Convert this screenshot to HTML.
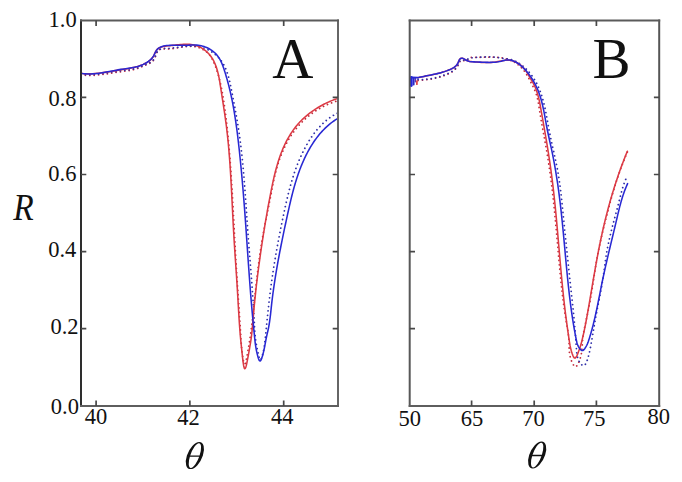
<!DOCTYPE html>
<html><head><meta charset="utf-8"><style>
html,body{margin:0;padding:0;background:#fff;width:682px;height:482px;overflow:hidden}
svg{display:block}
</style></head><body>
<svg width="682" height="482" viewBox="0 0 682 482"><rect width="682" height="482" fill="#fff"/><g><path d="M80.99,74.80 L82.49,75.00 L83.99,75.16 L85.50,75.28 L87.00,75.36 L88.50,75.40 L90.01,75.41 L91.52,75.39 L93.02,75.34 L94.53,75.27 L96.03,75.16 L97.54,75.04 L99.04,74.89 L100.55,74.73 L102.05,74.55 L103.56,74.35 L105.06,74.14 L106.56,73.93 L108.06,73.70 L109.56,73.47 L111.05,73.23 L112.55,73.00 L114.04,72.76 L115.53,72.52 L117.02,72.29 L118.50,72.07 L119.99,71.86 L121.46,71.65 L122.94,71.46 L124.41,71.26 L125.88,71.05 L127.35,70.84 L128.81,70.60 L130.27,70.35 L131.72,70.06 L133.17,69.73 L134.62,69.37 L136.06,68.96 L137.50,68.49 L138.93,67.96 L140.35,67.37 L141.78,66.73 L143.19,66.09 L144.60,65.50 L146.00,64.94 L147.37,64.37 L148.72,63.77 L150.03,63.09 L151.30,62.32 L152.48,61.40 L153.48,60.32 L154.29,59.08 L154.95,57.71 L155.51,56.27 L155.99,54.78 L156.49,53.32 L157.09,51.95 L157.90,50.78 L158.91,49.89 L160.13,49.33 L161.52,49.04 L163.04,48.93 L164.64,48.91 L166.29,48.91 L167.96,48.90 L169.60,48.85 L171.18,48.75 L172.69,48.60 L174.16,48.40 L175.59,48.16 L177.00,47.91 L178.42,47.64 L179.86,47.39 L181.32,47.14 L182.78,46.91 L184.26,46.71 L185.75,46.54 L187.24,46.42 L188.74,46.34 L190.24,46.31 L191.74,46.35 L193.23,46.45 L194.72,46.63 L196.20,46.90 L197.66,47.26 L199.12,47.71 L200.56,48.27 L201.97,48.94 L203.36,49.70 L204.70,50.55 L205.98,51.49 L207.20,52.51 L208.34,53.59 L209.40,54.73 L210.35,55.93 L211.21,57.18 L211.97,58.46 L212.67,59.77 L213.30,61.11 L213.90,62.47 L214.46,63.83 L215.01,65.20 L215.53,66.58 L216.04,67.96 L216.53,69.35 L217.00,70.74 L217.45,72.14 L217.88,73.55 L218.30,74.96 L218.70,76.38 L219.09,77.80 L219.46,79.22 L219.82,80.65 L220.16,82.09 L220.50,83.53 L220.82,84.97 L221.13,86.42 L221.42,87.87 L221.71,89.33 L221.99,90.79 L222.26,92.25 L222.52,93.72 L222.78,95.19 L223.03,96.66 L223.27,98.14 L223.51,99.62 L223.74,101.10 L223.96,102.59 L224.19,104.08 L224.40,105.57 L224.62,107.06 L224.83,108.55 L225.03,110.05 L225.23,111.55 L225.43,113.05 L225.62,114.55 L225.81,116.05 L226.00,117.55 L226.18,119.06 L226.36,120.57 L226.53,122.07 L226.71,123.58 L226.87,125.09 L227.04,126.60 L227.20,128.11 L227.36,129.61 L227.52,131.12 L227.68,132.63 L227.83,134.14 L227.98,135.65 L228.12,137.16 L228.27,138.66 L228.41,140.17 L228.55,141.68 L228.69,143.18 L228.83,144.69 L228.96,146.19 L229.09,147.70 L229.22,149.20 L229.35,150.71 L229.48,152.21 L229.60,153.71 L229.72,155.21 L229.84,156.72 L229.96,158.22 L230.08,159.72 L230.19,161.22 L230.31,162.72 L230.42,164.22 L230.53,165.72 L230.64,167.22 L230.74,168.72 L230.85,170.22 L230.95,171.72 L231.06,173.22 L231.16,174.72 L231.26,176.21 L231.36,177.71 L231.45,179.21 L231.55,180.71 L231.64,182.21 L231.74,183.70 L231.83,185.20 L231.92,186.70 L232.01,188.19 L232.10,189.69 L232.19,191.19 L232.28,192.68 L232.37,194.18 L232.45,195.67 L232.54,197.17 L232.62,198.66 L232.71,200.16 L232.79,201.66 L232.87,203.15 L232.95,204.65 L233.03,206.14 L233.11,207.64 L233.19,209.13 L233.27,210.63 L233.35,212.12 L233.43,213.62 L233.51,215.11 L233.59,216.61 L233.67,218.10 L233.75,219.60 L233.82,221.09 L233.90,222.59 L233.98,224.08 L234.06,225.58 L234.13,227.07 L234.21,228.57 L234.29,230.07 L234.37,231.56 L234.44,233.06 L234.52,234.55 L234.60,236.05 L234.68,237.55 L234.76,239.04 L234.84,240.54 L234.91,242.04 L234.99,243.53 L235.07,245.03 L235.16,246.53 L235.24,248.03 L235.32,249.52 L235.40,251.02 L235.48,252.52 L235.57,254.02 L235.65,255.52 L235.74,257.02 L235.82,258.52 L235.91,260.01 L236.00,261.51 L236.09,263.01 L236.17,264.52 L236.26,266.02 L236.36,267.52 L236.45,269.02 L236.54,270.52 L236.63,272.02 L236.73,273.53 L236.82,275.03 L236.92,276.53 L237.01,278.04 L237.11,279.54 L237.20,281.05 L237.30,282.56 L237.40,284.06 L237.50,285.57 L237.60,287.08 L237.70,288.59 L237.79,290.10 L237.89,291.61 L238.00,293.12 L238.10,294.63 L238.20,296.14 L238.30,297.65 L238.40,299.17 L238.50,300.68 L238.60,302.20 L238.71,303.72 L238.81,305.23 L238.91,306.75 L239.01,308.27 L239.12,309.79 L239.22,311.31 L239.32,312.83 L239.43,314.36 L239.53,315.88 L239.63,317.40 L239.73,318.93 L239.84,320.45 L239.94,321.97 L240.04,323.48 L240.14,324.99 L240.24,326.49 L240.33,327.98 L240.43,329.45 L240.52,330.91 L240.61,332.36 L240.70,333.79 L240.78,335.20 L240.86,336.59 L240.94,337.95 L241.01,339.30 L241.09,340.64 L241.17,341.98 L241.26,343.34 L241.35,344.73 L241.47,346.17 L241.60,347.67 L241.76,349.24 L241.94,350.90 L242.15,352.66 L242.40,354.54 L242.68,356.53 L242.99,358.54 L243.34,360.43 L243.71,362.05 L244.10,363.25 L244.50,363.90 L244.92,363.85 L245.33,363.12 L245.75,361.86 L246.15,360.21 L246.55,358.30 L246.93,356.29 L247.29,354.31 L247.63,352.44 L247.94,350.67 L248.23,349.01 L248.51,347.42 L248.77,345.90 L249.01,344.45 L249.24,343.04 L249.46,341.66 L249.67,340.31 L249.88,338.97 L250.08,337.62 L250.28,336.27 L250.47,334.90 L250.66,333.52 L250.85,332.13 L251.03,330.72 L251.22,329.30 L251.40,327.88 L251.58,326.44 L251.76,324.99 L251.93,323.54 L252.11,322.07 L252.28,320.60 L252.45,319.12 L252.62,317.63 L252.78,316.14 L252.95,314.63 L253.12,313.13 L253.28,311.62 L253.44,310.10 L253.60,308.58 L253.77,307.06 L253.93,305.54 L254.09,304.01 L254.25,302.48 L254.41,300.95 L254.57,299.42 L254.73,297.89 L254.89,296.36 L255.05,294.83 L255.21,293.30 L255.37,291.78 L255.53,290.26 L255.70,288.74 L255.86,287.22 L256.02,285.71 L256.19,284.20 L256.35,282.69 L256.52,281.18 L256.69,279.68 L256.86,278.18 L257.03,276.68 L257.21,275.19 L257.38,273.70 L257.56,272.20 L257.74,270.72 L257.92,269.23 L258.10,267.74 L258.29,266.26 L258.48,264.78 L258.67,263.30 L258.86,261.82 L259.06,260.34 L259.26,258.86 L259.46,257.39 L259.66,255.91 L259.87,254.44 L260.08,252.97 L260.30,251.49 L260.52,250.02 L260.74,248.55 L260.97,247.08 L261.20,245.60 L261.43,244.13 L261.67,242.66 L261.92,241.19 L262.16,239.72 L262.42,238.24 L262.67,236.77 L262.93,235.30 L263.20,233.82 L263.47,232.35 L263.75,230.87 L264.02,229.39 L264.31,227.92 L264.59,226.44 L264.88,224.96 L265.17,223.48 L265.47,222.01 L265.76,220.53 L266.06,219.05 L266.36,217.57 L266.66,216.09 L266.96,214.61 L267.27,213.13 L267.57,211.65 L267.87,210.17 L268.17,208.69 L268.47,207.21 L268.77,205.73 L269.07,204.25 L269.37,202.77 L269.67,201.29 L269.96,199.81 L270.25,198.33 L270.54,196.86 L270.83,195.38 L271.11,193.90 L271.39,192.43 L271.66,190.95 L271.94,189.47 L272.22,188.00 L272.50,186.53 L272.79,185.05 L273.08,183.58 L273.37,182.11 L273.68,180.64 L273.99,179.17 L274.32,177.71 L274.65,176.24 L275.00,174.77 L275.36,173.31 L275.73,171.85 L276.11,170.39 L276.51,168.94 L276.92,167.48 L277.35,166.04 L277.78,164.59 L278.24,163.15 L278.71,161.72 L279.19,160.29 L279.69,158.87 L280.21,157.45 L280.74,156.04 L281.28,154.64 L281.85,153.24 L282.43,151.85 L283.03,150.48 L283.64,149.11 L284.27,147.74 L284.93,146.39 L285.60,145.05 L286.28,143.72 L286.99,142.40 L287.72,141.09 L288.47,139.79 L289.23,138.51 L290.02,137.23 L290.83,135.97 L291.66,134.72 L292.50,133.49 L293.37,132.27 L294.26,131.06 L295.17,129.87 L296.10,128.70 L297.05,127.54 L298.02,126.39 L299.01,125.27 L300.01,124.16 L301.04,123.06 L302.09,121.99 L303.16,120.93 L304.24,119.89 L305.35,118.87 L306.47,117.87 L307.61,116.89 L308.78,115.93 L309.96,114.99 L311.16,114.07 L312.38,113.17 L313.62,112.30 L314.87,111.44 L316.15,110.61 L317.44,109.80 L318.74,109.02 L320.06,108.25 L321.39,107.52 L322.74,106.80 L324.09,106.12 L325.46,105.45 L326.83,104.82 L328.21,104.21 L329.59,103.62 L330.98,103.07 L332.38,102.54 L333.77,102.04 L335.17,101.56 L336.57,101.12 L337.97,100.70" fill="none" stroke="#c42c3c" stroke-width="1.8" stroke-dasharray="0.01 4.4" stroke-linecap="round"/><path d="M80.99,74.20 L82.50,74.38 L84.00,74.53 L85.51,74.63 L87.02,74.69 L88.53,74.72 L90.04,74.71 L91.54,74.68 L93.05,74.61 L94.56,74.52 L96.06,74.40 L97.57,74.26 L99.08,74.10 L100.58,73.93 L102.08,73.74 L103.58,73.53 L105.08,73.31 L106.58,73.09 L108.08,72.86 L109.58,72.62 L111.07,72.38 L112.57,72.14 L114.06,71.91 L115.54,71.68 L117.03,71.45 L118.52,71.24 L120.00,71.03 L121.48,70.84 L122.95,70.65 L124.43,70.47 L125.90,70.28 L127.37,70.08 L128.83,69.87 L130.30,69.63 L131.76,69.36 L133.21,69.05 L134.67,68.70 L136.11,68.31 L137.56,67.85 L139.00,67.34 L140.44,66.76 L141.87,66.13 L143.30,65.51 L144.73,64.93 L146.13,64.37 L147.52,63.81 L148.87,63.21 L150.17,62.54 L151.42,61.77 L152.56,60.85 L153.53,59.74 L154.32,58.45 L154.99,57.04 L155.57,55.57 L156.12,54.10 L156.71,52.70 L157.41,51.43 L158.31,50.35 L159.39,49.51 L160.66,48.96 L162.07,48.64 L163.60,48.48 L165.20,48.40 L166.84,48.35 L168.48,48.30 L170.09,48.23 L171.63,48.12 L173.13,47.97 L174.58,47.80 L176.01,47.60 L177.44,47.39 L178.88,47.19 L180.34,46.99 L181.81,46.80 L183.29,46.62 L184.79,46.46 L186.30,46.33 L187.81,46.23 L189.33,46.15 L190.85,46.12 L192.37,46.12 L193.89,46.17 L195.40,46.28 L196.90,46.43 L198.40,46.65 L199.88,46.93 L201.35,47.27 L202.80,47.68 L204.23,48.16 L205.64,48.70 L207.03,49.30 L208.39,49.95 L209.72,50.67 L211.02,51.43 L212.29,52.25 L213.52,53.12 L214.71,54.04 L215.86,55.00 L216.97,56.01 L218.04,57.06 L219.06,58.14 L220.02,59.27 L220.94,60.43 L221.80,61.62 L222.61,62.85 L223.37,64.11 L224.09,65.39 L224.76,66.70 L225.38,68.04 L225.97,69.40 L226.52,70.78 L227.04,72.18 L227.52,73.60 L227.98,75.04 L228.40,76.49 L228.81,77.95 L229.19,79.43 L229.55,80.91 L229.89,82.40 L230.22,83.90 L230.54,85.41 L230.85,86.91 L231.15,88.42 L231.44,89.93 L231.74,91.43 L232.03,92.93 L232.32,94.43 L232.61,95.93 L232.90,97.42 L233.19,98.91 L233.48,100.40 L233.76,101.88 L234.05,103.37 L234.33,104.85 L234.61,106.33 L234.89,107.81 L235.16,109.28 L235.43,110.76 L235.70,112.23 L235.97,113.71 L236.23,115.18 L236.49,116.65 L236.75,118.13 L237.00,119.60 L237.25,121.08 L237.50,122.55 L237.74,124.02 L237.98,125.50 L238.21,126.98 L238.44,128.45 L238.67,129.93 L238.89,131.41 L239.10,132.89 L239.31,134.37 L239.52,135.86 L239.73,137.34 L239.93,138.82 L240.12,140.31 L240.31,141.80 L240.50,143.28 L240.69,144.77 L240.87,146.26 L241.05,147.75 L241.22,149.24 L241.39,150.73 L241.56,152.22 L241.73,153.71 L241.89,155.21 L242.05,156.70 L242.21,158.20 L242.36,159.69 L242.51,161.19 L242.66,162.68 L242.80,164.18 L242.95,165.68 L243.09,167.18 L243.22,168.67 L243.36,170.17 L243.49,171.67 L243.62,173.17 L243.75,174.67 L243.88,176.17 L244.01,177.67 L244.13,179.18 L244.25,180.68 L244.37,182.18 L244.49,183.68 L244.61,185.19 L244.72,186.69 L244.84,188.19 L244.95,189.70 L245.06,191.20 L245.17,192.70 L245.28,194.21 L245.39,195.71 L245.50,197.22 L245.60,198.72 L245.71,200.23 L245.81,201.73 L245.92,203.24 L246.02,204.74 L246.12,206.25 L246.23,207.75 L246.33,209.26 L246.43,210.76 L246.53,212.27 L246.63,213.77 L246.74,215.28 L246.84,216.78 L246.94,218.28 L247.04,219.79 L247.14,221.29 L247.25,222.80 L247.35,224.30 L247.45,225.80 L247.56,227.31 L247.66,228.81 L247.77,230.31 L247.87,231.81 L247.98,233.31 L248.09,234.81 L248.20,236.32 L248.31,237.82 L248.42,239.32 L248.53,240.82 L248.64,242.32 L248.76,243.81 L248.87,245.31 L248.99,246.81 L249.10,248.31 L249.22,249.81 L249.34,251.30 L249.46,252.80 L249.57,254.30 L249.69,255.80 L249.81,257.29 L249.93,258.79 L250.05,260.29 L250.17,261.78 L250.29,263.28 L250.40,264.77 L250.52,266.27 L250.64,267.76 L250.76,269.26 L250.88,270.76 L251.00,272.25 L251.11,273.75 L251.23,275.24 L251.35,276.74 L251.46,278.23 L251.58,279.73 L251.69,281.22 L251.80,282.72 L251.92,284.22 L252.03,285.71 L252.14,287.21 L252.25,288.70 L252.36,290.20 L252.46,291.70 L252.57,293.19 L252.67,294.69 L252.78,296.19 L252.88,297.69 L252.98,299.19 L253.08,300.69 L253.18,302.19 L253.27,303.69 L253.37,305.20 L253.46,306.71 L253.55,308.21 L253.64,309.73 L253.72,311.24 L253.81,312.76 L253.89,314.27 L253.97,315.79 L254.05,317.32 L254.12,318.85 L254.20,320.37 L254.27,321.90 L254.34,323.43 L254.42,324.95 L254.50,326.47 L254.59,327.98 L254.68,329.47 L254.78,330.96 L254.88,332.43 L255.00,333.89 L255.13,335.32 L255.27,336.74 L255.43,338.13 L255.60,339.50 L255.79,340.86 L256.00,342.22 L256.23,343.60 L256.47,345.00 L256.74,346.43 L257.03,347.92 L257.35,349.46 L257.70,351.08 L258.07,352.78 L258.47,354.58 L258.89,356.46 L259.36,358.20 L259.85,359.46 L260.38,359.91 L260.93,359.39 L261.49,358.17 L262.02,356.55 L262.51,354.83 L262.95,353.15 L263.33,351.50 L263.66,349.89 L263.96,348.31 L264.22,346.75 L264.45,345.22 L264.65,343.70 L264.83,342.20 L265.00,340.70 L265.16,339.21 L265.31,337.73 L265.47,336.24 L265.62,334.75 L265.77,333.27 L265.92,331.78 L266.07,330.29 L266.22,328.79 L266.37,327.30 L266.52,325.81 L266.67,324.32 L266.82,322.82 L266.98,321.33 L267.13,319.83 L267.28,318.33 L267.44,316.84 L267.59,315.34 L267.75,313.84 L267.91,312.35 L268.07,310.85 L268.23,309.35 L268.39,307.85 L268.55,306.36 L268.72,304.86 L268.89,303.36 L269.06,301.86 L269.23,300.37 L269.40,298.87 L269.58,297.37 L269.76,295.88 L269.94,294.38 L270.12,292.89 L270.31,291.39 L270.50,289.90 L270.69,288.41 L270.89,286.92 L271.09,285.42 L271.29,283.93 L271.50,282.44 L271.71,280.95 L271.92,279.46 L272.13,277.98 L272.35,276.49 L272.57,275.00 L272.79,273.51 L273.01,272.03 L273.24,270.54 L273.47,269.06 L273.70,267.57 L273.94,266.09 L274.18,264.61 L274.42,263.12 L274.66,261.64 L274.91,260.16 L275.16,258.68 L275.41,257.20 L275.66,255.72 L275.92,254.24 L276.17,252.76 L276.43,251.28 L276.70,249.80 L276.96,248.32 L277.23,246.84 L277.50,245.36 L277.77,243.88 L278.04,242.41 L278.32,240.93 L278.60,239.45 L278.88,237.97 L279.16,236.50 L279.45,235.02 L279.73,233.54 L280.02,232.07 L280.31,230.59 L280.60,229.12 L280.90,227.64 L281.19,226.17 L281.49,224.69 L281.79,223.21 L282.09,221.74 L282.40,220.26 L282.70,218.79 L283.01,217.31 L283.32,215.84 L283.63,214.36 L283.94,212.89 L284.26,211.41 L284.57,209.94 L284.89,208.46 L285.21,206.99 L285.54,205.52 L285.87,204.04 L286.20,202.57 L286.54,201.10 L286.88,199.63 L287.23,198.16 L287.58,196.70 L287.93,195.23 L288.30,193.77 L288.66,192.31 L289.04,190.85 L289.42,189.39 L289.81,187.94 L290.20,186.49 L290.60,185.04 L291.01,183.59 L291.43,182.14 L291.85,180.70 L292.29,179.26 L292.73,177.83 L293.18,176.40 L293.65,174.97 L294.12,173.54 L294.60,172.12 L295.09,170.70 L295.59,169.29 L296.11,167.88 L296.63,166.48 L297.17,165.07 L297.72,163.68 L298.28,162.29 L298.85,160.90 L299.43,159.52 L300.03,158.14 L300.64,156.77 L301.27,155.40 L301.91,154.04 L302.56,152.68 L303.23,151.33 L303.91,149.98 L304.60,148.64 L305.32,147.31 L306.05,145.98 L306.79,144.66 L307.55,143.35 L308.33,142.05 L309.12,140.75 L309.93,139.47 L310.76,138.20 L311.60,136.94 L312.47,135.69 L313.35,134.46 L314.25,133.24 L315.17,132.04 L316.11,130.85 L317.06,129.69 L318.04,128.54 L319.04,127.42 L320.06,126.31 L321.10,125.23 L322.16,124.17 L323.24,123.13 L324.34,122.12 L325.46,121.13 L326.61,120.17 L327.78,119.24 L328.97,118.34 L330.18,117.47 L331.42,116.62 L332.68,115.81 L333.97,115.03 L335.28,114.29 L336.61,113.58 L337.97,112.90" fill="none" stroke="#2e2ea8" stroke-width="1.8" stroke-dasharray="0.01 4.4" stroke-linecap="round"/><path d="M81.12,73.42 L82.56,73.56 L84.01,73.67 L85.47,73.75 L86.93,73.79 L88.41,73.80 L89.88,73.78 L91.37,73.73 L92.86,73.66 L94.35,73.57 L95.85,73.45 L97.35,73.31 L98.86,73.15 L100.36,72.97 L101.87,72.78 L103.38,72.58 L104.90,72.36 L106.41,72.13 L107.93,71.89 L109.44,71.65 L110.95,71.39 L112.47,71.14 L113.98,70.88 L115.49,70.63 L116.99,70.37 L118.50,70.12 L120.00,69.87 L121.49,69.63 L122.98,69.39 L124.47,69.15 L125.95,68.91 L127.42,68.65 L128.89,68.39 L130.36,68.12 L131.81,67.82 L133.26,67.50 L134.70,67.16 L136.13,66.79 L137.55,66.39 L138.96,65.95 L140.36,65.46 L141.75,64.94 L143.13,64.37 L144.49,63.74 L145.85,63.07 L147.18,62.32 L148.46,61.51 L149.68,60.62 L150.82,59.63 L151.85,58.54 L152.76,57.34 L153.53,56.02 L154.20,54.62 L154.83,53.20 L155.49,51.82 L156.23,50.53 L157.12,49.40 L158.20,48.48 L159.45,47.74 L160.82,47.16 L162.28,46.72 L163.78,46.39 L165.28,46.15 L166.76,45.96 L168.23,45.82 L169.70,45.68 L171.19,45.53 L172.69,45.36 L174.21,45.19 L175.74,45.01 L177.28,44.84 L178.82,44.69 L180.38,44.54 L181.93,44.42 L183.48,44.34 L185.02,44.28 L186.56,44.27 L188.09,44.30 L189.61,44.39 L191.11,44.54 L192.59,44.75 L194.05,45.04 L195.49,45.40 L196.90,45.85 L198.29,46.37 L199.64,46.97 L200.95,47.64 L202.23,48.38 L203.47,49.18 L204.67,50.05 L205.82,50.96 L206.92,51.93 L207.97,52.95 L208.97,54.02 L209.91,55.13 L210.80,56.27 L211.63,57.46 L212.41,58.67 L213.13,59.93 L213.82,61.21 L214.45,62.52 L215.05,63.86 L215.60,65.23 L216.11,66.62 L216.59,68.03 L217.04,69.46 L217.46,70.92 L217.84,72.38 L218.21,73.87 L218.54,75.36 L218.86,76.87 L219.16,78.39 L219.44,79.91 L219.70,81.44 L219.96,82.98 L220.20,84.51 L220.44,86.05 L220.67,87.58 L220.90,89.11 L221.13,90.64 L221.36,92.16 L221.59,93.67 L221.83,95.18 L222.06,96.68 L222.29,98.18 L222.52,99.67 L222.75,101.16 L222.99,102.64 L223.22,104.12 L223.45,105.60 L223.67,107.08 L223.90,108.55 L224.12,110.02 L224.35,111.49 L224.56,112.96 L224.78,114.43 L224.99,115.90 L225.20,117.37 L225.41,118.84 L225.61,120.31 L225.81,121.78 L226.01,123.25 L226.20,124.73 L226.39,126.20 L226.57,127.68 L226.75,129.16 L226.92,130.64 L227.09,132.12 L227.26,133.61 L227.42,135.09 L227.58,136.58 L227.74,138.06 L227.89,139.55 L228.04,141.04 L228.18,142.53 L228.33,144.03 L228.46,145.52 L228.60,147.01 L228.73,148.51 L228.86,150.01 L228.99,151.50 L229.11,153.00 L229.24,154.50 L229.35,156.00 L229.47,157.50 L229.58,159.00 L229.70,160.51 L229.81,162.01 L229.91,163.51 L230.02,165.02 L230.12,166.52 L230.22,168.03 L230.32,169.54 L230.41,171.04 L230.51,172.55 L230.60,174.06 L230.69,175.57 L230.78,177.07 L230.87,178.58 L230.96,180.09 L231.04,181.60 L231.13,183.11 L231.21,184.62 L231.29,186.13 L231.37,187.64 L231.45,189.15 L231.53,190.66 L231.61,192.17 L231.69,193.68 L231.76,195.19 L231.84,196.70 L231.91,198.21 L231.99,199.72 L232.06,201.22 L232.14,202.73 L232.21,204.24 L232.29,205.75 L232.36,207.26 L232.43,208.76 L232.51,210.27 L232.58,211.78 L232.66,213.28 L232.73,214.79 L232.81,216.29 L232.88,217.79 L232.96,219.30 L233.03,220.80 L233.11,222.30 L233.19,223.80 L233.27,225.30 L233.35,226.80 L233.43,228.30 L233.51,229.79 L233.60,231.29 L233.68,232.79 L233.77,234.28 L233.85,235.77 L233.94,237.26 L234.03,238.75 L234.12,240.24 L234.21,241.73 L234.31,243.22 L234.40,244.71 L234.50,246.20 L234.59,247.68 L234.69,249.17 L234.79,250.66 L234.89,252.14 L234.99,253.63 L235.09,255.12 L235.19,256.61 L235.29,258.09 L235.39,259.58 L235.49,261.07 L235.59,262.56 L235.69,264.05 L235.79,265.54 L235.89,267.03 L236.00,268.53 L236.10,270.02 L236.20,271.52 L236.30,273.01 L236.40,274.51 L236.50,276.01 L236.60,277.52 L236.70,279.02 L236.80,280.53 L236.89,282.04 L236.99,283.55 L237.09,285.06 L237.18,286.58 L237.28,288.09 L237.37,289.61 L237.46,291.14 L237.55,292.66 L237.64,294.19 L237.73,295.72 L237.82,297.25 L237.91,298.78 L238.00,300.31 L238.08,301.84 L238.17,303.37 L238.26,304.90 L238.35,306.43 L238.44,307.95 L238.52,309.47 L238.61,310.99 L238.70,312.51 L238.79,314.02 L238.89,315.52 L238.98,317.02 L239.07,318.52 L239.17,320.01 L239.26,321.49 L239.36,322.97 L239.46,324.44 L239.57,325.90 L239.67,327.36 L239.78,328.80 L239.89,330.24 L240.00,331.67 L240.11,333.08 L240.23,334.49 L240.35,335.89 L240.47,337.27 L240.60,338.64 L240.73,340.01 L240.86,341.39 L241.00,342.79 L241.14,344.21 L241.30,345.68 L241.46,347.20 L241.62,348.77 L241.80,350.42 L241.98,352.16 L242.18,353.98 L242.39,355.91 L242.61,357.92 L242.84,359.94 L243.08,361.91 L243.34,363.75 L243.61,365.41 L243.90,366.80 L244.20,367.87 L244.53,368.54 L244.86,368.75 L245.22,368.47 L245.59,367.74 L245.97,366.63 L246.35,365.20 L246.74,363.53 L247.13,361.68 L247.51,359.72 L247.88,357.72 L248.24,355.74 L248.58,353.84 L248.90,352.05 L249.20,350.35 L249.49,348.74 L249.76,347.19 L250.02,345.71 L250.26,344.28 L250.49,342.88 L250.71,341.51 L250.92,340.15 L251.11,338.79 L251.30,337.43 L251.47,336.04 L251.64,334.65 L251.80,333.23 L251.95,331.80 L252.09,330.36 L252.23,328.90 L252.37,327.43 L252.50,325.96 L252.63,324.47 L252.75,322.98 L252.88,321.48 L253.00,319.98 L253.12,318.47 L253.25,316.96 L253.38,315.45 L253.51,313.94 L253.64,312.43 L253.77,310.91 L253.91,309.40 L254.05,307.89 L254.19,306.38 L254.33,304.87 L254.48,303.36 L254.63,301.85 L254.78,300.34 L254.94,298.83 L255.09,297.32 L255.25,295.81 L255.41,294.30 L255.58,292.79 L255.74,291.28 L255.91,289.77 L256.08,288.27 L256.25,286.76 L256.42,285.26 L256.60,283.75 L256.78,282.25 L256.96,280.75 L257.14,279.24 L257.32,277.74 L257.51,276.24 L257.69,274.74 L257.88,273.25 L258.07,271.75 L258.27,270.25 L258.46,268.76 L258.66,267.27 L258.85,265.77 L259.05,264.28 L259.25,262.79 L259.46,261.31 L259.66,259.82 L259.87,258.33 L260.07,256.85 L260.28,255.37 L260.49,253.89 L260.70,252.41 L260.91,250.93 L261.13,249.45 L261.34,247.97 L261.56,246.50 L261.78,245.02 L262.00,243.55 L262.22,242.08 L262.45,240.60 L262.68,239.13 L262.90,237.66 L263.13,236.19 L263.36,234.72 L263.60,233.24 L263.83,231.77 L264.07,230.30 L264.31,228.83 L264.55,227.36 L264.79,225.89 L265.03,224.42 L265.28,222.95 L265.53,221.48 L265.78,220.00 L266.03,218.53 L266.28,217.06 L266.54,215.58 L266.80,214.11 L267.06,212.63 L267.32,211.16 L267.58,209.68 L267.85,208.20 L268.12,206.72 L268.39,205.24 L268.66,203.76 L268.94,202.28 L269.21,200.80 L269.49,199.31 L269.78,197.82 L270.06,196.33 L270.35,194.84 L270.63,193.35 L270.93,191.86 L271.22,190.36 L271.52,188.87 L271.82,187.37 L272.13,185.88 L272.44,184.39 L272.76,182.89 L273.08,181.40 L273.41,179.91 L273.75,178.42 L274.09,176.93 L274.44,175.45 L274.80,173.96 L275.17,172.48 L275.55,171.01 L275.93,169.54 L276.33,168.07 L276.73,166.61 L277.15,165.15 L277.58,163.70 L278.02,162.25 L278.47,160.81 L278.93,159.38 L279.41,157.95 L279.90,156.53 L280.41,155.11 L280.92,153.71 L281.46,152.31 L282.01,150.92 L282.57,149.54 L283.15,148.17 L283.75,146.81 L284.36,145.46 L284.99,144.11 L285.64,142.78 L286.30,141.46 L286.99,140.15 L287.69,138.85 L288.42,137.57 L289.16,136.29 L289.92,135.03 L290.71,133.78 L291.51,132.55 L292.34,131.33 L293.19,130.12 L294.06,128.93 L294.96,127.75 L295.88,126.58 L296.82,125.43 L297.79,124.30 L298.78,123.18 L299.80,122.08 L300.84,121.00 L301.91,119.93 L303.00,118.89 L304.11,117.85 L305.25,116.84 L306.40,115.85 L307.58,114.87 L308.78,113.91 L309.99,112.98 L311.22,112.06 L312.47,111.16 L313.73,110.28 L315.01,109.43 L316.30,108.59 L317.61,107.78 L318.92,106.99 L320.24,106.22 L321.58,105.47 L322.92,104.75 L324.27,104.05 L325.63,103.37 L326.99,102.72 L328.36,102.09 L329.73,101.49 L331.11,100.91 L332.48,100.36 L333.86,99.83 L335.24,99.33 L336.61,98.86 L337.98,98.41" fill="none" stroke="#dc3a44" stroke-width="1.55" stroke-linejoin="round" stroke-linecap="round"/><path d="M80.89,73.35 L82.50,73.55 L84.08,73.71 L85.65,73.82 L87.20,73.90 L88.74,73.93 L90.26,73.92 L91.77,73.88 L93.26,73.80 L94.74,73.70 L96.22,73.57 L97.68,73.41 L99.14,73.23 L100.59,73.02 L102.04,72.80 L103.48,72.57 L104.92,72.32 L106.36,72.06 L107.81,71.79 L109.25,71.51 L110.70,71.24 L112.15,70.96 L113.61,70.68 L115.07,70.40 L116.54,70.14 L118.03,69.88 L119.52,69.63 L121.03,69.39 L122.54,69.17 L124.07,68.95 L125.60,68.73 L127.13,68.50 L128.65,68.27 L130.18,68.02 L131.70,67.75 L133.21,67.46 L134.71,67.14 L136.19,66.79 L137.66,66.40 L139.10,65.97 L140.53,65.50 L141.93,64.97 L143.30,64.38 L144.64,63.74 L145.94,63.03 L147.21,62.25 L148.44,61.39 L149.63,60.46 L150.77,59.44 L151.83,58.34 L152.78,57.17 L153.58,55.93 L154.26,54.63 L154.91,53.28 L155.59,51.89 L156.36,50.54 L157.26,49.35 L158.33,48.37 L159.54,47.60 L160.83,46.97 L162.20,46.47 L163.63,46.08 L165.12,45.79 L166.65,45.58 L168.20,45.45 L169.79,45.36 L171.38,45.32 L172.97,45.31 L174.56,45.31 L176.13,45.31 L177.68,45.31 L179.20,45.30 L180.72,45.29 L182.21,45.27 L183.70,45.24 L185.17,45.22 L186.64,45.19 L188.10,45.15 L189.56,45.11 L191.01,45.07 L192.46,45.03 L193.92,45.02 L195.38,45.04 L196.85,45.11 L198.32,45.24 L199.81,45.45 L201.30,45.75 L202.80,46.14 L204.30,46.61 L205.78,47.17 L207.24,47.81 L208.67,48.51 L210.06,49.29 L211.40,50.14 L212.68,51.05 L213.90,52.02 L215.04,53.04 L216.10,54.12 L217.08,55.24 L217.99,56.41 L218.83,57.62 L219.60,58.87 L220.31,60.16 L220.98,61.47 L221.59,62.81 L222.17,64.17 L222.71,65.55 L223.22,66.95 L223.71,68.36 L224.18,69.78 L224.64,71.20 L225.10,72.62 L225.54,74.05 L225.97,75.48 L226.39,76.92 L226.81,78.35 L227.22,79.79 L227.61,81.24 L228.00,82.68 L228.38,84.13 L228.76,85.58 L229.12,87.04 L229.48,88.49 L229.83,89.95 L230.17,91.41 L230.51,92.87 L230.83,94.34 L231.16,95.81 L231.47,97.28 L231.78,98.75 L232.08,100.22 L232.37,101.70 L232.66,103.18 L232.94,104.66 L233.21,106.14 L233.48,107.62 L233.75,109.11 L234.00,110.59 L234.25,112.08 L234.50,113.57 L234.74,115.06 L234.98,116.55 L235.21,118.04 L235.44,119.53 L235.66,121.03 L235.88,122.52 L236.09,124.02 L236.30,125.52 L236.51,127.02 L236.71,128.51 L236.91,130.01 L237.10,131.51 L237.29,133.01 L237.48,134.51 L237.66,136.01 L237.85,137.52 L238.02,139.02 L238.20,140.52 L238.37,142.02 L238.54,143.52 L238.71,145.02 L238.88,146.53 L239.04,148.03 L239.21,149.53 L239.37,151.03 L239.53,152.53 L239.68,154.03 L239.84,155.53 L239.99,157.03 L240.15,158.53 L240.30,160.03 L240.45,161.52 L240.60,163.02 L240.74,164.52 L240.89,166.02 L241.03,167.52 L241.18,169.01 L241.32,170.51 L241.46,172.01 L241.60,173.51 L241.74,175.00 L241.87,176.50 L242.01,178.00 L242.14,179.49 L242.27,180.99 L242.40,182.49 L242.53,183.98 L242.66,185.48 L242.79,186.98 L242.92,188.47 L243.04,189.97 L243.17,191.47 L243.29,192.96 L243.42,194.46 L243.54,195.95 L243.66,197.45 L243.78,198.95 L243.90,200.45 L244.01,201.94 L244.13,203.44 L244.25,204.94 L244.36,206.43 L244.48,207.93 L244.59,209.43 L244.70,210.93 L244.81,212.43 L244.92,213.93 L245.03,215.42 L245.14,216.92 L245.25,218.42 L245.36,219.92 L245.47,221.42 L245.58,222.92 L245.68,224.42 L245.79,225.92 L245.90,227.42 L246.00,228.92 L246.11,230.42 L246.21,231.92 L246.32,233.42 L246.42,234.93 L246.53,236.43 L246.63,237.93 L246.73,239.43 L246.84,240.93 L246.94,242.43 L247.04,243.94 L247.15,245.44 L247.25,246.94 L247.35,248.45 L247.46,249.95 L247.56,251.45 L247.66,252.95 L247.77,254.46 L247.87,255.96 L247.98,257.47 L248.08,258.97 L248.18,260.47 L248.29,261.98 L248.39,263.48 L248.50,264.99 L248.61,266.49 L248.71,267.99 L248.82,269.50 L248.93,271.00 L249.04,272.51 L249.14,274.01 L249.25,275.52 L249.36,277.02 L249.47,278.53 L249.59,280.04 L249.70,281.54 L249.81,283.05 L249.92,284.55 L250.04,286.06 L250.15,287.56 L250.27,289.07 L250.39,290.58 L250.50,292.08 L250.62,293.59 L250.74,295.10 L250.86,296.60 L250.99,298.11 L251.11,299.62 L251.23,301.12 L251.36,302.63 L251.49,304.14 L251.62,305.64 L251.75,307.15 L251.88,308.66 L252.01,310.16 L252.14,311.67 L252.28,313.18 L252.41,314.69 L252.55,316.19 L252.69,317.70 L252.83,319.21 L252.97,320.71 L253.12,322.22 L253.26,323.72 L253.41,325.21 L253.55,326.70 L253.70,328.19 L253.84,329.66 L253.99,331.13 L254.14,332.58 L254.28,334.02 L254.42,335.45 L254.57,336.86 L254.71,338.25 L254.85,339.63 L254.99,341.01 L255.15,342.40 L255.33,343.80 L255.52,345.23 L255.74,346.69 L256.00,348.20 L256.29,349.77 L256.62,351.40 L257.00,353.11 L257.43,354.91 L257.91,356.77 L258.45,358.53 L259.02,359.96 L259.61,360.84 L260.21,360.96 L260.81,360.34 L261.39,359.17 L261.95,357.64 L262.47,355.95 L262.94,354.25 L263.36,352.59 L263.75,350.96 L264.10,349.35 L264.43,347.76 L264.74,346.19 L265.03,344.64 L265.31,343.11 L265.59,341.60 L265.87,340.09 L266.16,338.60 L266.47,337.11 L266.79,335.64 L267.12,334.16 L267.46,332.69 L267.79,331.23 L268.12,329.76 L268.43,328.29 L268.72,326.83 L268.99,325.36 L269.24,323.89 L269.47,322.42 L269.69,320.95 L269.90,319.47 L270.09,318.00 L270.27,316.52 L270.45,315.04 L270.62,313.56 L270.78,312.08 L270.94,310.60 L271.10,309.12 L271.25,307.63 L271.41,306.15 L271.58,304.67 L271.74,303.18 L271.91,301.69 L272.09,300.21 L272.27,298.72 L272.46,297.23 L272.65,295.74 L272.84,294.25 L273.04,292.76 L273.24,291.27 L273.44,289.78 L273.65,288.29 L273.87,286.80 L274.09,285.30 L274.31,283.81 L274.53,282.32 L274.76,280.82 L274.99,279.33 L275.23,277.84 L275.46,276.34 L275.71,274.85 L275.95,273.36 L276.20,271.86 L276.45,270.37 L276.71,268.88 L276.96,267.38 L277.23,265.89 L277.49,264.39 L277.75,262.90 L278.02,261.41 L278.30,259.92 L278.57,258.42 L278.85,256.93 L279.13,255.44 L279.41,253.95 L279.69,252.46 L279.98,250.97 L280.27,249.48 L280.56,247.99 L280.85,246.50 L281.14,245.01 L281.44,243.52 L281.74,242.04 L282.04,240.55 L282.34,239.06 L282.64,237.58 L282.95,236.10 L283.26,234.61 L283.56,233.13 L283.87,231.65 L284.18,230.17 L284.50,228.69 L284.81,227.21 L285.12,225.74 L285.44,224.26 L285.76,222.78 L286.07,221.31 L286.39,219.84 L286.71,218.37 L287.03,216.90 L287.35,215.43 L287.67,213.96 L287.99,212.50 L288.32,211.03 L288.64,209.57 L288.97,208.11 L289.30,206.65 L289.63,205.19 L289.96,203.73 L290.30,202.28 L290.64,200.83 L290.99,199.37 L291.34,197.92 L291.69,196.48 L292.06,195.03 L292.42,193.59 L292.80,192.14 L293.18,190.70 L293.56,189.27 L293.96,187.83 L294.36,186.39 L294.77,184.96 L295.19,183.53 L295.62,182.10 L296.05,180.68 L296.50,179.25 L296.96,177.83 L297.42,176.41 L297.90,175.00 L298.39,173.58 L298.89,172.17 L299.41,170.76 L299.93,169.35 L300.47,167.95 L301.02,166.55 L301.59,165.15 L302.17,163.75 L302.76,162.36 L303.37,160.97 L303.99,159.58 L304.63,158.20 L305.28,156.83 L305.95,155.46 L306.64,154.10 L307.33,152.75 L308.05,151.41 L308.78,150.07 L309.53,148.75 L310.29,147.43 L311.07,146.13 L311.87,144.84 L312.69,143.56 L313.52,142.30 L314.37,141.04 L315.24,139.81 L316.12,138.59 L317.03,137.38 L317.95,136.19 L318.89,135.02 L319.85,133.86 L320.83,132.72 L321.83,131.61 L322.85,130.51 L323.89,129.43 L324.95,128.37 L326.02,127.34 L327.12,126.32 L328.24,125.33 L329.38,124.37 L330.54,123.43 L331.73,122.51 L332.93,121.62 L334.16,120.75 L335.40,119.91 L336.67,119.10 L337.97,118.32" fill="none" stroke="#2828d4" stroke-width="1.55" stroke-linejoin="round" stroke-linecap="round"/></g><g><path d="M418.07,80.55 L419.47,80.45 L420.89,80.34 L422.32,80.22 L423.78,80.08 L425.25,79.91 L426.73,79.73 L428.22,79.52 L429.72,79.30 L431.22,79.04 L432.72,78.77 L434.23,78.46 L435.73,78.13 L437.22,77.77 L438.71,77.38 L440.18,76.95 L441.64,76.50 L443.09,76.01 L444.52,75.48 L445.93,74.92 L447.31,74.32 L448.67,73.68 L450.00,73.01 L451.30,72.28 L452.55,71.49 L453.73,70.63 L454.85,69.67 L455.87,68.61 L456.80,67.43 L457.61,66.12 L458.31,64.66 L458.95,63.17 L459.66,61.79 L460.56,60.74 L461.77,60.33 L463.28,60.59 L464.83,60.97 L466.23,60.95 L467.41,60.17 L468.47,59.00 L469.63,58.03 L470.97,57.54 L472.42,57.36 L473.93,57.33 L475.46,57.31 L476.98,57.29 L478.50,57.26 L480.02,57.23 L481.55,57.20 L483.07,57.17 L484.59,57.15 L486.11,57.13 L487.62,57.13 L489.14,57.13 L490.65,57.14 L492.16,57.17 L493.66,57.21 L495.16,57.27 L496.66,57.35 L498.15,57.45 L499.64,57.59 L501.12,57.77 L502.59,57.99 L504.06,58.26 L505.51,58.59 L506.97,58.99 L508.41,59.45 L509.84,59.98 L511.25,60.58 L512.64,61.24 L514.00,61.97 L515.33,62.75 L516.61,63.58 L517.85,64.48 L519.03,65.42 L520.16,66.41 L521.22,67.44 L522.23,68.52 L523.18,69.63 L524.09,70.78 L524.96,71.97 L525.78,73.19 L526.58,74.44 L527.34,75.71 L528.08,77.01 L528.80,78.32 L529.51,79.66 L530.20,81.01 L530.89,82.37 L531.59,83.75 L532.28,85.13 L532.98,86.51 L533.66,87.91 L534.32,89.30 L534.94,90.71 L535.50,92.11 L536.02,93.53 L536.48,94.94 L536.90,96.37 L537.27,97.79 L537.61,99.22 L537.92,100.66 L538.20,102.10 L538.46,103.54 L538.71,104.99 L538.94,106.44 L539.16,107.89 L539.38,109.35 L539.60,110.81 L539.83,112.28 L540.06,113.75 L540.30,115.22 L540.54,116.69 L540.79,118.16 L541.04,119.64 L541.30,121.12 L541.56,122.61 L541.82,124.09 L542.09,125.58 L542.36,127.07 L542.63,128.56 L542.90,130.05 L543.17,131.54 L543.45,133.04 L543.72,134.53 L544.00,136.03 L544.28,137.53 L544.55,139.02 L544.82,140.52 L545.10,142.02 L545.37,143.52 L545.64,145.02 L545.90,146.52 L546.17,148.02 L546.43,149.52 L546.69,151.02 L546.94,152.52 L547.19,154.02 L547.44,155.51 L547.68,157.01 L547.92,158.51 L548.15,160.00 L548.39,161.50 L548.61,162.99 L548.84,164.49 L549.06,165.98 L549.28,167.48 L549.49,168.97 L549.70,170.46 L549.91,171.96 L550.12,173.45 L550.32,174.94 L550.52,176.44 L550.72,177.93 L550.91,179.42 L551.10,180.91 L551.29,182.40 L551.48,183.89 L551.66,185.38 L551.84,186.88 L552.02,188.37 L552.20,189.86 L552.37,191.35 L552.54,192.84 L552.71,194.33 L552.88,195.82 L553.05,197.31 L553.21,198.80 L553.37,200.29 L553.53,201.78 L553.69,203.27 L553.84,204.76 L554.00,206.25 L554.15,207.74 L554.30,209.23 L554.45,210.71 L554.60,212.20 L554.74,213.69 L554.89,215.19 L555.03,216.68 L555.17,218.17 L555.31,219.66 L555.45,221.15 L555.59,222.64 L555.73,224.13 L555.87,225.62 L556.00,227.11 L556.14,228.60 L556.27,230.10 L556.41,231.59 L556.54,233.08 L556.67,234.57 L556.81,236.07 L556.94,237.56 L557.07,239.05 L557.20,240.55 L557.33,242.04 L557.46,243.54 L557.59,245.03 L557.72,246.53 L557.85,248.02 L557.98,249.52 L558.11,251.02 L558.24,252.51 L558.37,254.01 L558.50,255.51 L558.63,257.01 L558.77,258.51 L558.90,260.01 L559.03,261.51 L559.17,263.01 L559.30,264.51 L559.44,266.01 L559.58,267.51 L559.71,269.01 L559.85,270.51 L560.00,272.01 L560.14,273.51 L560.29,275.01 L560.43,276.52 L560.58,278.02 L560.73,279.52 L560.89,281.02 L561.04,282.52 L561.20,284.02 L561.36,285.53 L561.52,287.03 L561.69,288.53 L561.86,290.03 L562.03,291.53 L562.21,293.03 L562.38,294.53 L562.57,296.03 L562.75,297.53 L562.94,299.03 L563.13,300.53 L563.33,302.03 L563.52,303.53 L563.73,305.03 L563.94,306.52 L564.15,308.02 L564.36,309.52 L564.58,311.01 L564.81,312.51 L565.04,314.01 L565.27,315.50 L565.51,317.00 L565.75,318.49 L566.00,319.98 L566.25,321.47 L566.51,322.97 L566.77,324.46 L567.03,325.94 L567.28,327.43 L567.53,328.91 L567.77,330.40 L568.00,331.87 L568.21,333.35 L568.40,334.82 L568.57,336.28 L568.72,337.74 L568.84,339.19 L568.94,340.64 L569.00,342.08 L569.04,343.51 L569.07,344.95 L569.09,346.38 L569.13,347.82 L569.18,349.26 L569.27,350.72 L569.40,352.18 L569.58,353.66 L569.82,355.15 L570.14,356.67 L570.55,358.20 L571.05,359.77 L571.66,361.35 L572.39,362.97 L573.25,364.60 L574.20,365.98 L575.19,366.74 L576.18,366.55 L577.13,365.53 L578.01,363.98 L578.80,362.20 L579.49,360.45 L580.07,358.75 L580.56,357.12 L580.97,355.54 L581.30,354.00 L581.57,352.51 L581.78,351.05 L581.95,349.62 L582.07,348.22 L582.18,346.83 L582.26,345.45 L582.34,344.08 L582.43,342.71 L582.52,341.33 L582.63,339.94 L582.78,338.53 L582.95,337.10 L583.15,335.66 L583.37,334.20 L583.62,332.73 L583.88,331.25 L584.16,329.76 L584.45,328.27 L584.75,326.77 L585.06,325.27 L585.38,323.76 L585.70,322.26 L586.03,320.75 L586.35,319.25 L586.67,317.76 L586.99,316.26 L587.31,314.77 L587.62,313.29 L587.93,311.80 L588.24,310.32 L588.54,308.84 L588.84,307.36 L589.13,305.89 L589.42,304.41 L589.70,302.94 L589.98,301.46 L590.25,299.98 L590.52,298.51 L590.78,297.03 L591.04,295.55 L591.29,294.08 L591.54,292.60 L591.78,291.12 L592.02,289.64 L592.26,288.16 L592.49,286.68 L592.72,285.20 L592.95,283.72 L593.18,282.24 L593.41,280.76 L593.64,279.28 L593.86,277.80 L594.09,276.31 L594.32,274.83 L594.55,273.35 L594.78,271.87 L595.01,270.39 L595.24,268.91 L595.48,267.43 L595.72,265.95 L595.96,264.46 L596.20,262.98 L596.45,261.50 L596.71,260.02 L596.97,258.54 L597.23,257.06 L597.50,255.58 L597.78,254.10 L598.06,252.63 L598.35,251.15 L598.65,249.67 L598.96,248.19 L599.27,246.72 L599.59,245.24 L599.91,243.76 L600.24,242.29 L600.57,240.82 L600.91,239.34 L601.25,237.87 L601.60,236.40 L601.95,234.93 L602.30,233.46 L602.65,231.99 L603.00,230.52 L603.35,229.05 L603.70,227.58 L604.06,226.12 L604.41,224.65 L604.77,223.19 L605.13,221.73 L605.49,220.26 L605.86,218.80 L606.22,217.34 L606.59,215.88 L606.96,214.43 L607.33,212.97 L607.71,211.51 L608.08,210.06 L608.46,208.61 L608.85,207.15 L609.24,205.70 L609.63,204.25 L610.02,202.81 L610.42,201.36 L610.82,199.91 L611.22,198.47 L611.63,197.02 L612.04,195.58 L612.46,194.14 L612.88,192.70 L613.31,191.26 L613.74,189.83 L614.17,188.39 L614.61,186.96 L615.06,185.53 L615.50,184.10 L615.96,182.67 L616.42,181.24 L616.89,179.81 L617.36,178.39 L617.83,176.96 L618.32,175.54 L618.81,174.12 L619.30,172.70 L619.80,171.29 L620.31,169.87 L620.82,168.46 L621.35,167.05 L621.87,165.63 L622.41,164.23 L622.95,162.82 L623.50,161.41 L624.05,160.01 L624.62,158.61 L625.19,157.21 L625.77,155.81 L626.35,154.42 L626.95,153.02 L627.55,151.63" fill="none" stroke="#c42c3c" stroke-width="1.8" stroke-dasharray="0.01 4.4" stroke-linecap="round"/><path d="M418.06,79.52 L419.48,79.57 L420.91,79.59 L422.37,79.56 L423.83,79.50 L425.31,79.40 L426.80,79.27 L428.29,79.09 L429.79,78.89 L431.29,78.64 L432.80,78.36 L434.30,78.05 L435.79,77.70 L437.29,77.32 L438.77,76.91 L440.24,76.47 L441.70,75.99 L443.14,75.48 L444.57,74.94 L445.98,74.37 L447.36,73.77 L448.72,73.13 L450.06,72.47 L451.36,71.77 L452.61,71.00 L453.80,70.14 L454.91,69.17 L455.93,68.06 L456.85,66.82 L457.66,65.46 L458.34,64.03 L458.97,62.60 L459.68,61.26 L460.60,60.19 L461.86,59.84 L463.40,60.15 L464.93,60.23 L466.34,59.80 L467.69,59.13 L469.02,58.47 L470.40,58.04 L471.81,57.81 L473.26,57.69 L474.72,57.59 L476.20,57.48 L477.69,57.37 L479.19,57.26 L480.70,57.15 L482.22,57.04 L483.75,56.96 L485.28,56.88 L486.82,56.84 L488.36,56.82 L489.90,56.83 L491.44,56.88 L492.98,56.98 L494.52,57.12 L496.05,57.31 L497.58,57.54 L499.09,57.80 L500.61,58.06 L502.11,58.29 L503.60,58.49 L505.07,58.63 L506.53,58.75 L507.98,58.92 L509.41,59.17 L510.82,59.51 L512.22,59.92 L513.59,60.42 L514.94,60.99 L516.27,61.62 L517.58,62.33 L518.86,63.09 L520.12,63.92 L521.35,64.80 L522.55,65.73 L523.73,66.71 L524.88,67.73 L525.99,68.79 L527.08,69.90 L528.13,71.03 L529.15,72.20 L530.13,73.39 L531.08,74.60 L532.00,75.84 L532.87,77.08 L533.71,78.35 L534.51,79.62 L535.28,80.91 L536.02,82.21 L536.72,83.53 L537.39,84.85 L538.03,86.19 L538.64,87.53 L539.22,88.89 L539.78,90.26 L540.31,91.64 L540.81,93.02 L541.30,94.42 L541.76,95.82 L542.20,97.24 L542.62,98.66 L543.02,100.09 L543.41,101.52 L543.78,102.96 L544.13,104.41 L544.47,105.87 L544.80,107.33 L545.11,108.79 L545.42,110.26 L545.72,111.74 L546.01,113.21 L546.29,114.70 L546.57,116.18 L546.84,117.67 L547.11,119.16 L547.38,120.65 L547.64,122.15 L547.91,123.64 L548.18,125.14 L548.45,126.64 L548.72,128.13 L549.00,129.63 L549.29,131.13 L549.58,132.62 L549.88,134.12 L550.19,135.61 L550.50,137.11 L550.81,138.60 L551.13,140.09 L551.46,141.58 L551.78,143.07 L552.11,144.56 L552.44,146.05 L552.77,147.54 L553.11,149.03 L553.44,150.52 L553.77,152.00 L554.10,153.49 L554.43,154.98 L554.76,156.46 L555.08,157.95 L555.40,159.43 L555.72,160.92 L556.03,162.40 L556.33,163.88 L556.63,165.37 L556.93,166.85 L557.22,168.33 L557.49,169.82 L557.77,171.30 L558.03,172.78 L558.28,174.26 L558.53,175.75 L558.76,177.23 L558.99,178.71 L559.22,180.19 L559.43,181.67 L559.64,183.16 L559.85,184.64 L560.05,186.12 L560.24,187.60 L560.43,189.08 L560.61,190.57 L560.79,192.05 L560.96,193.53 L561.13,195.02 L561.30,196.50 L561.46,197.98 L561.62,199.47 L561.78,200.95 L561.94,202.44 L562.09,203.92 L562.24,205.41 L562.40,206.89 L562.55,208.38 L562.70,209.87 L562.85,211.35 L563.00,212.84 L563.15,214.33 L563.30,215.82 L563.45,217.31 L563.60,218.80 L563.75,220.29 L563.90,221.78 L564.05,223.27 L564.21,224.77 L564.36,226.26 L564.51,227.75 L564.66,229.25 L564.81,230.74 L564.96,232.24 L565.12,233.73 L565.27,235.23 L565.42,236.72 L565.57,238.22 L565.73,239.72 L565.88,241.21 L566.03,242.71 L566.19,244.21 L566.34,245.71 L566.50,247.21 L566.65,248.71 L566.80,250.20 L566.96,251.70 L567.12,253.20 L567.27,254.70 L567.43,256.21 L567.58,257.71 L567.74,259.21 L567.90,260.71 L568.05,262.21 L568.21,263.71 L568.37,265.22 L568.53,266.72 L568.68,268.22 L568.84,269.72 L569.00,271.23 L569.16,272.73 L569.32,274.24 L569.48,275.74 L569.64,277.24 L569.80,278.75 L569.96,280.25 L570.13,281.76 L570.29,283.26 L570.45,284.77 L570.61,286.27 L570.78,287.78 L570.94,289.28 L571.11,290.79 L571.27,292.29 L571.44,293.80 L571.60,295.31 L571.77,296.81 L571.93,298.32 L572.10,299.82 L572.26,301.33 L572.42,302.84 L572.59,304.34 L572.75,305.85 L572.91,307.36 L573.07,308.86 L573.22,310.37 L573.38,311.87 L573.53,313.38 L573.68,314.89 L573.83,316.39 L573.98,317.90 L574.12,319.41 L574.27,320.91 L574.40,322.42 L574.54,323.92 L574.67,325.43 L574.80,326.93 L574.93,328.44 L575.05,329.94 L575.18,331.44 L575.30,332.94 L575.41,334.44 L575.53,335.94 L575.64,337.44 L575.75,338.93 L575.86,340.42 L575.97,341.91 L576.07,343.39 L576.17,344.88 L576.28,346.36 L576.37,347.83 L576.47,349.31 L576.57,350.77 L576.68,352.24 L576.83,353.70 L577.04,355.16 L577.33,356.61 L577.72,358.06 L578.25,359.50 L578.92,360.94 L579.76,362.37 L580.79,363.78 L581.93,364.98 L583.09,365.66 L584.16,365.59 L585.11,364.79 L585.95,363.46 L586.69,361.78 L587.34,359.93 L587.91,358.11 L588.40,356.40 L588.84,354.79 L589.22,353.26 L589.56,351.80 L589.86,350.38 L590.14,349.00 L590.41,347.62 L590.67,346.24 L590.92,344.85 L591.18,343.44 L591.43,342.03 L591.68,340.60 L591.93,339.17 L592.18,337.72 L592.43,336.27 L592.68,334.81 L592.93,333.34 L593.19,331.87 L593.44,330.39 L593.69,328.91 L593.94,327.42 L594.20,325.93 L594.46,324.43 L594.72,322.93 L594.98,321.43 L595.24,319.93 L595.51,318.43 L595.78,316.93 L596.06,315.42 L596.34,313.92 L596.62,312.42 L596.91,310.92 L597.20,309.43 L597.49,307.93 L597.78,306.44 L598.08,304.94 L598.37,303.45 L598.67,301.96 L598.96,300.46 L599.26,298.97 L599.55,297.48 L599.84,296.00 L600.13,294.51 L600.41,293.02 L600.70,291.54 L600.97,290.05 L601.25,288.57 L601.51,287.08 L601.78,285.60 L602.03,284.12 L602.28,282.63 L602.53,281.15 L602.76,279.67 L602.99,278.19 L603.21,276.71 L603.43,275.23 L603.64,273.75 L603.84,272.28 L604.04,270.80 L604.24,269.32 L604.44,267.84 L604.64,266.36 L604.84,264.89 L605.04,263.41 L605.25,261.93 L605.45,260.46 L605.67,258.98 L605.88,257.51 L606.11,256.03 L606.34,254.55 L606.58,253.08 L606.83,251.60 L607.09,250.13 L607.36,248.65 L607.64,247.18 L607.94,245.70 L608.24,244.22 L608.55,242.75 L608.87,241.27 L609.20,239.80 L609.53,238.32 L609.88,236.85 L610.23,235.37 L610.58,233.90 L610.94,232.43 L611.31,230.95 L611.68,229.48 L612.06,228.01 L612.44,226.54 L612.82,225.07 L613.21,223.60 L613.60,222.13 L613.99,220.67 L614.38,219.20 L614.77,217.74 L615.16,216.27 L615.55,214.81 L615.94,213.35 L616.33,211.89 L616.72,210.43 L617.10,208.97 L617.49,207.52 L617.86,206.06 L618.24,204.61 L618.61,203.16 L618.97,201.71 L619.34,200.26 L619.69,198.82 L620.05,197.37 L620.42,195.93 L620.79,194.49 L621.16,193.05 L621.55,191.62 L621.95,190.19 L622.37,188.75 L622.81,187.32 L623.26,185.90 L623.75,184.47 L624.26,183.05 L624.79,181.63 L625.36,180.21 L625.97,178.80 L626.61,177.38 L627.29,175.97" fill="none" stroke="#2e2ea8" stroke-width="1.8" stroke-dasharray="0.01 4.4" stroke-linecap="round"/><path d="M417.98,77.66 L419.46,77.34 L420.94,77.03 L422.42,76.72 L423.90,76.43 L425.38,76.13 L426.86,75.84 L428.33,75.55 L429.81,75.25 L431.29,74.95 L432.76,74.64 L434.23,74.32 L435.69,73.99 L437.15,73.65 L438.61,73.29 L440.06,72.90 L441.51,72.50 L442.94,72.07 L444.38,71.62 L445.80,71.14 L447.22,70.63 L448.62,70.08 L450.02,69.50 L451.41,68.88 L452.75,68.19 L454.04,67.42 L455.23,66.54 L456.30,65.53 L457.23,64.37 L457.98,63.02 L458.58,61.52 L459.18,60.08 L459.98,58.91 L461.14,58.27 L462.50,58.30 L463.91,58.87 L465.31,59.64 L466.71,60.43 L468.11,61.09 L469.52,61.44 L470.93,61.58 L472.37,61.70 L473.81,61.83 L475.27,61.95 L476.75,62.07 L478.23,62.19 L479.72,62.30 L481.22,62.39 L482.73,62.47 L484.25,62.52 L485.77,62.56 L487.29,62.56 L488.82,62.54 L490.34,62.48 L491.87,62.39 L493.39,62.26 L494.92,62.08 L496.44,61.86 L497.95,61.59 L499.46,61.29 L500.96,60.98 L502.46,60.69 L503.94,60.43 L505.41,60.23 L506.88,60.11 L508.32,60.10 L509.76,60.20 L511.18,60.43 L512.57,60.78 L513.94,61.24 L515.29,61.81 L516.60,62.47 L517.88,63.22 L519.12,64.05 L520.32,64.96 L521.47,65.93 L522.57,66.97 L523.62,68.06 L524.61,69.20 L525.54,70.37 L526.41,71.58 L527.21,72.81 L527.94,74.06 L528.64,75.32 L529.34,76.60 L530.08,77.89 L530.86,79.20 L531.66,80.52 L532.45,81.86 L533.21,83.20 L533.92,84.56 L534.59,85.93 L535.20,87.31 L535.78,88.70 L536.31,90.10 L536.81,91.50 L537.27,92.92 L537.70,94.34 L538.10,95.78 L538.48,97.21 L538.83,98.66 L539.16,100.11 L539.47,101.56 L539.77,103.02 L540.05,104.48 L540.32,105.95 L540.59,107.42 L540.85,108.89 L541.11,110.36 L541.37,111.83 L541.64,113.31 L541.90,114.78 L542.16,116.26 L542.42,117.74 L542.68,119.21 L542.94,120.69 L543.20,122.17 L543.46,123.65 L543.72,125.14 L543.98,126.62 L544.24,128.10 L544.50,129.59 L544.75,131.07 L545.01,132.56 L545.27,134.05 L545.52,135.53 L545.77,137.02 L546.02,138.51 L546.27,140.00 L546.52,141.49 L546.77,142.98 L547.02,144.47 L547.26,145.96 L547.51,147.45 L547.75,148.94 L547.99,150.44 L548.22,151.93 L548.46,153.42 L548.69,154.91 L548.92,156.41 L549.15,157.90 L549.38,159.39 L549.60,160.89 L549.83,162.38 L550.05,163.88 L550.26,165.37 L550.48,166.87 L550.69,168.36 L550.89,169.85 L551.10,171.35 L551.30,172.84 L551.50,174.34 L551.70,175.83 L551.89,177.32 L552.08,178.82 L552.27,180.31 L552.46,181.80 L552.64,183.30 L552.82,184.79 L553.00,186.29 L553.17,187.78 L553.35,189.27 L553.52,190.77 L553.69,192.26 L553.85,193.75 L554.02,195.25 L554.18,196.74 L554.34,198.23 L554.50,199.73 L554.66,201.22 L554.81,202.72 L554.97,204.21 L555.12,205.70 L555.27,207.20 L555.42,208.69 L555.56,210.18 L555.71,211.68 L555.85,213.17 L556.00,214.67 L556.14,216.16 L556.28,217.66 L556.42,219.15 L556.56,220.64 L556.70,222.14 L556.83,223.63 L556.97,225.13 L557.10,226.62 L557.24,228.12 L557.37,229.61 L557.50,231.11 L557.64,232.60 L557.77,234.10 L557.90,235.59 L558.03,237.09 L558.16,238.58 L558.29,240.08 L558.42,241.57 L558.55,243.07 L558.68,244.57 L558.81,246.06 L558.94,247.56 L559.07,249.06 L559.20,250.55 L559.32,252.05 L559.45,253.55 L559.58,255.04 L559.72,256.54 L559.85,258.04 L559.98,259.54 L560.11,261.03 L560.24,262.53 L560.37,264.03 L560.51,265.53 L560.64,267.03 L560.78,268.53 L560.91,270.03 L561.05,271.53 L561.19,273.03 L561.33,274.53 L561.47,276.03 L561.61,277.53 L561.75,279.03 L561.90,280.53 L562.04,282.03 L562.19,283.53 L562.34,285.03 L562.49,286.53 L562.64,288.04 L562.79,289.54 L562.94,291.04 L563.10,292.54 L563.26,294.05 L563.42,295.55 L563.58,297.06 L563.74,298.56 L563.91,300.06 L564.08,301.57 L564.25,303.07 L564.42,304.58 L564.59,306.08 L564.77,307.59 L564.95,309.10 L565.13,310.60 L565.32,312.11 L565.50,313.62 L565.69,315.13 L565.88,316.63 L566.08,318.14 L566.28,319.65 L566.48,321.16 L566.68,322.67 L566.89,324.18 L567.09,325.68 L567.30,327.17 L567.51,328.66 L567.72,330.15 L567.93,331.62 L568.14,333.08 L568.35,334.52 L568.56,335.95 L568.77,337.37 L568.97,338.76 L569.18,340.14 L569.38,341.50 L569.60,342.86 L569.83,344.23 L570.09,345.64 L570.40,347.09 L570.75,348.61 L571.17,350.22 L571.66,351.91 L572.23,353.72 L572.88,355.53 L573.60,357.06 L574.36,358.01 L575.17,358.09 L575.99,357.29 L576.80,355.87 L577.58,354.12 L578.29,352.31 L578.93,350.60 L579.50,348.98 L580.01,347.45 L580.47,345.98 L580.89,344.57 L581.27,343.19 L581.63,341.84 L581.97,340.50 L582.30,339.15 L582.62,337.80 L582.94,336.43 L583.26,335.04 L583.57,333.65 L583.88,332.25 L584.18,330.83 L584.48,329.40 L584.77,327.97 L585.07,326.52 L585.35,325.07 L585.64,323.61 L585.92,322.14 L586.20,320.67 L586.48,319.19 L586.76,317.71 L587.03,316.21 L587.30,314.72 L587.57,313.22 L587.83,311.72 L588.10,310.21 L588.36,308.71 L588.62,307.20 L588.88,305.69 L589.14,304.18 L589.39,302.67 L589.65,301.16 L589.91,299.66 L590.16,298.15 L590.41,296.65 L590.67,295.15 L590.92,293.65 L591.17,292.15 L591.43,290.65 L591.68,289.16 L591.93,287.66 L592.18,286.17 L592.44,284.68 L592.69,283.19 L592.94,281.70 L593.20,280.22 L593.45,278.73 L593.71,277.25 L593.96,275.76 L594.22,274.28 L594.48,272.80 L594.74,271.32 L595.00,269.84 L595.26,268.36 L595.52,266.89 L595.79,265.41 L596.05,263.94 L596.32,262.46 L596.59,260.99 L596.86,259.52 L597.13,258.05 L597.41,256.58 L597.68,255.11 L597.96,253.64 L598.25,252.17 L598.53,250.70 L598.82,249.23 L599.11,247.76 L599.40,246.30 L599.69,244.83 L599.99,243.37 L600.29,241.90 L600.60,240.43 L600.90,238.97 L601.21,237.51 L601.53,236.04 L601.85,234.58 L602.17,233.11 L602.49,231.65 L602.82,230.18 L603.15,228.72 L603.49,227.26 L603.83,225.79 L604.17,224.33 L604.52,222.87 L604.87,221.41 L605.23,219.94 L605.59,218.48 L605.95,217.02 L606.32,215.56 L606.69,214.10 L607.07,212.64 L607.45,211.18 L607.83,209.73 L608.22,208.27 L608.61,206.82 L609.01,205.36 L609.41,203.91 L609.81,202.45 L610.22,201.00 L610.64,199.55 L611.05,198.10 L611.48,196.65 L611.90,195.21 L612.33,193.76 L612.77,192.32 L613.21,190.88 L613.65,189.43 L614.10,187.99 L614.55,186.56 L615.01,185.12 L615.47,183.69 L615.93,182.25 L616.40,180.82 L616.88,179.39 L617.36,177.96 L617.84,176.54 L618.33,175.11 L618.82,173.69 L619.32,172.27 L619.82,170.85 L620.33,169.44 L620.84,168.03 L621.36,166.61 L621.88,165.21 L622.41,163.80 L622.94,162.40 L623.47,160.99 L624.01,159.59 L624.56,158.20 L625.11,156.80 L625.67,155.41 L626.23,154.02 L626.79,152.64 L627.36,151.26" fill="none" stroke="#dc3a44" stroke-width="1.55" stroke-linejoin="round" stroke-linecap="round"/><path d="M418.00,77.67 L419.46,77.33 L420.93,77.01 L422.41,76.70 L423.88,76.39 L425.36,76.10 L426.84,75.80 L428.32,75.51 L429.79,75.21 L431.27,74.92 L432.75,74.61 L434.22,74.30 L435.69,73.97 L437.16,73.63 L438.63,73.27 L440.09,72.89 L441.54,72.49 L442.99,72.07 L444.43,71.62 L445.86,71.13 L447.28,70.62 L448.69,70.07 L450.09,69.48 L451.46,68.85 L452.80,68.15 L454.07,67.37 L455.25,66.49 L456.31,65.47 L457.24,64.30 L458.00,62.96 L458.62,61.48 L459.25,60.05 L460.09,58.89 L461.26,58.23 L462.59,58.27 L463.94,58.89 L465.32,59.75 L466.73,60.53 L468.15,61.07 L469.59,61.42 L471.05,61.65 L472.51,61.78 L473.99,61.86 L475.48,61.93 L476.98,62.00 L478.48,62.07 L480.00,62.14 L481.52,62.21 L483.04,62.27 L484.56,62.32 L486.09,62.36 L487.62,62.39 L489.15,62.40 L490.68,62.39 L492.20,62.35 L493.72,62.28 L495.23,62.17 L496.74,62.01 L498.24,61.80 L499.73,61.53 L501.22,61.20 L502.69,60.81 L504.14,60.41 L505.59,60.10 L507.02,59.95 L508.43,59.94 L509.83,60.07 L511.20,60.33 L512.56,60.70 L513.90,61.19 L515.21,61.79 L516.51,62.48 L517.77,63.26 L519.02,64.13 L520.23,65.06 L521.42,66.06 L522.58,67.11 L523.70,68.22 L524.80,69.36 L525.86,70.54 L526.89,71.74 L527.88,72.96 L528.84,74.19 L529.76,75.43 L530.65,76.68 L531.50,77.95 L532.32,79.22 L533.11,80.51 L533.87,81.80 L534.59,83.11 L535.29,84.42 L535.95,85.75 L536.58,87.08 L537.19,88.43 L537.77,89.78 L538.32,91.14 L538.84,92.51 L539.33,93.89 L539.81,95.27 L540.26,96.66 L540.69,98.06 L541.09,99.47 L541.48,100.89 L541.86,102.31 L542.21,103.73 L542.55,105.17 L542.88,106.61 L543.20,108.05 L543.50,109.50 L543.80,110.96 L544.09,112.42 L544.37,113.89 L544.65,115.36 L544.92,116.83 L545.19,118.31 L545.46,119.79 L545.73,121.28 L546.00,122.77 L546.27,124.26 L546.54,125.75 L546.83,127.25 L547.12,128.75 L547.41,130.25 L547.72,131.76 L548.03,133.26 L548.35,134.77 L548.67,136.28 L549.00,137.78 L549.33,139.29 L549.66,140.80 L549.99,142.31 L550.33,143.82 L550.66,145.33 L550.99,146.84 L551.32,148.35 L551.64,149.86 L551.96,151.36 L552.27,152.87 L552.58,154.37 L552.88,155.87 L553.17,157.37 L553.47,158.87 L553.75,160.37 L554.03,161.87 L554.31,163.36 L554.58,164.86 L554.85,166.35 L555.11,167.84 L555.37,169.34 L555.62,170.83 L555.87,172.32 L556.11,173.81 L556.35,175.30 L556.59,176.79 L556.82,178.28 L557.05,179.76 L557.27,181.25 L557.50,182.73 L557.71,184.22 L557.93,185.71 L558.14,187.19 L558.34,188.67 L558.55,190.16 L558.74,191.64 L558.94,193.12 L559.13,194.61 L559.33,196.09 L559.51,197.57 L559.70,199.05 L559.88,200.54 L560.06,202.02 L560.23,203.50 L560.41,204.98 L560.58,206.46 L560.75,207.95 L560.92,209.43 L561.08,210.91 L561.24,212.39 L561.40,213.88 L561.56,215.36 L561.72,216.84 L561.88,218.33 L562.03,219.81 L562.18,221.29 L562.33,222.78 L562.48,224.26 L562.63,225.75 L562.77,227.24 L562.92,228.72 L563.06,230.21 L563.21,231.70 L563.35,233.19 L563.49,234.68 L563.63,236.17 L563.77,237.66 L563.91,239.15 L564.05,240.64 L564.18,242.14 L564.32,243.63 L564.46,245.13 L564.60,246.63 L564.73,248.12 L564.87,249.62 L565.01,251.12 L565.15,252.62 L565.28,254.13 L565.42,255.63 L565.56,257.13 L565.70,258.64 L565.84,260.15 L565.98,261.65 L566.12,263.16 L566.26,264.67 L566.40,266.18 L566.55,267.69 L566.69,269.19 L566.84,270.70 L566.98,272.21 L567.13,273.73 L567.28,275.24 L567.43,276.75 L567.58,278.26 L567.74,279.77 L567.89,281.28 L568.05,282.79 L568.21,284.30 L568.37,285.81 L568.54,287.32 L568.70,288.83 L568.87,290.34 L569.04,291.85 L569.22,293.36 L569.39,294.87 L569.57,296.37 L569.75,297.88 L569.93,299.39 L570.12,300.89 L570.31,302.40 L570.50,303.90 L570.69,305.40 L570.89,306.90 L571.09,308.40 L571.30,309.90 L571.51,311.40 L571.72,312.90 L571.93,314.39 L572.15,315.89 L572.38,317.38 L572.60,318.87 L572.83,320.36 L573.07,321.85 L573.31,323.33 L573.55,324.82 L573.79,326.30 L574.05,327.77 L574.30,329.25 L574.56,330.71 L574.83,332.18 L575.10,333.63 L575.37,335.08 L575.65,336.53 L575.93,337.97 L576.22,339.40 L576.52,340.82 L576.85,342.24 L577.25,343.67 L577.77,345.11 L578.44,346.56 L579.30,348.05 L580.36,349.43 L581.52,350.36 L582.71,350.49 L583.86,349.74 L584.93,348.45 L585.86,346.96 L586.66,345.50 L587.33,344.06 L587.90,342.64 L588.41,341.23 L588.88,339.83 L589.33,338.42 L589.77,337.01 L590.20,335.59 L590.63,334.17 L591.04,332.75 L591.44,331.32 L591.84,329.89 L592.22,328.46 L592.60,327.02 L592.97,325.58 L593.34,324.14 L593.69,322.69 L594.04,321.25 L594.39,319.79 L594.73,318.34 L595.06,316.88 L595.39,315.42 L595.71,313.96 L596.03,312.50 L596.35,311.03 L596.66,309.56 L596.97,308.09 L597.27,306.62 L597.57,305.15 L597.87,303.68 L598.17,302.20 L598.46,300.72 L598.76,299.25 L599.05,297.77 L599.34,296.29 L599.63,294.81 L599.93,293.32 L600.22,291.84 L600.51,290.36 L600.80,288.88 L601.10,287.39 L601.40,285.91 L601.69,284.43 L602.00,282.94 L602.30,281.46 L602.61,279.98 L602.91,278.50 L603.23,277.02 L603.54,275.54 L603.86,274.05 L604.18,272.58 L604.51,271.10 L604.84,269.62 L605.17,268.14 L605.50,266.66 L605.83,265.18 L606.17,263.71 L606.50,262.23 L606.84,260.76 L607.19,259.28 L607.53,257.81 L607.87,256.33 L608.22,254.86 L608.57,253.39 L608.92,251.92 L609.26,250.45 L609.62,248.98 L609.97,247.51 L610.32,246.04 L610.67,244.57 L611.02,243.10 L611.37,241.63 L611.73,240.17 L612.08,238.70 L612.43,237.24 L612.78,235.77 L613.14,234.31 L613.49,232.85 L613.84,231.39 L614.19,229.93 L614.54,228.47 L614.88,227.01 L615.23,225.55 L615.58,224.09 L615.92,222.63 L616.26,221.18 L616.61,219.72 L616.95,218.27 L617.28,216.82 L617.62,215.36 L617.97,213.91 L618.31,212.46 L618.66,211.01 L619.01,209.56 L619.38,208.11 L619.74,206.67 L620.12,205.22 L620.51,203.78 L620.90,202.33 L621.31,200.89 L621.74,199.45 L622.17,198.01 L622.63,196.57 L623.10,195.13 L623.58,193.69 L624.09,192.25 L624.62,190.82 L625.16,189.38 L625.73,187.95 L626.33,186.51 L626.94,185.08 L627.59,183.65" fill="none" stroke="#2828d4" stroke-width="1.55" stroke-linejoin="round" stroke-linecap="round"/><path d="M411.3,77.5V85.6" stroke="#2222dc" stroke-width="2.8" stroke-linecap="round"/><path d="M413.7,78.2V84.6" stroke="#2a2ac8" stroke-width="1.8" stroke-linecap="round"/><path d="M415.4,78.6V81.8" stroke="#5a36b0" stroke-width="1.5" stroke-linecap="round"/><path d="M416.9,81.2V84.2" stroke="#e04848" stroke-width="1.8" stroke-linecap="round"/><path d="M410,78 L412,77.4 L418,77.6" stroke="#2828d4" stroke-width="1.9" fill="none"/></g><path d="M81.0,19.6V406.9" stroke="#2e2e2e" stroke-width="2"/><path d="M338.0,19.6V406.9" stroke="#666" stroke-width="2"/><path d="M80.0,20.6H339.0" stroke="#5a5a5a" stroke-width="2"/><path d="M80.0,405.9H339.0" stroke="#5e5e5e" stroke-width="2"/><path d="M81.0,97.4h5.3M338.0,97.4h-5.3M81.0,174.5h5.3M338.0,174.5h-5.3M81.0,251.6h5.3M338.0,251.6h-5.3M81.0,328.7h5.3M338.0,328.7h-5.3M96.1,405.9v-5.3M96.1,20.6v5.3M189.85,405.9v-5.3M189.85,20.6v5.3M283.7,405.9v-5.3M283.7,20.6v5.3" stroke="#484848" stroke-width="1.7" fill="none"/><path d="M409.7,19.6V406.9" stroke="#585858" stroke-width="2"/><path d="M659.2,19.6V406.9" stroke="#555" stroke-width="2"/><path d="M408.7,20.6H660.2" stroke="#5a5a5a" stroke-width="2"/><path d="M408.7,405.9H660.2" stroke="#5e5e5e" stroke-width="2"/><path d="M409.7,97.4h5.3M659.2,97.4h-5.3M409.7,174.5h5.3M659.2,174.5h-5.3M409.7,251.6h5.3M659.2,251.6h-5.3M409.7,328.7h5.3M659.2,328.7h-5.3M471.6,405.9v-5.3M471.6,20.6v5.3M534.2,405.9v-5.3M534.2,20.6v5.3M596.4,405.9v-5.3M596.4,20.6v5.3" stroke="#484848" stroke-width="1.7" fill="none"/><text x="48.58" y="27.07" font-family="Liberation Serif" fill="#111" font-size="22.5">1.0</text><text x="48.49" y="105.82" font-family="Liberation Serif" fill="#111" font-size="22.5">0.8</text><text x="48.29" y="181.02" font-family="Liberation Serif" fill="#111" font-size="22.5">0.6</text><text x="48.13" y="257.47" font-family="Liberation Serif" fill="#111" font-size="22.5">0.4</text><text x="50.38" y="333.87" font-family="Liberation Serif" fill="#111" font-size="22.5">0.2</text><text x="50.84" y="413.97" font-family="Liberation Serif" fill="#111" font-size="22.5">0.0</text><text x="84.81" y="424.47" font-family="Liberation Serif" fill="#111" font-size="22.5">40</text><text x="177.30" y="424.60" font-family="Liberation Serif" fill="#111" font-size="22.5">42</text><text x="270.96" y="424.20" font-family="Liberation Serif" fill="#111" font-size="22.5">44</text><text x="398.42" y="425.72" font-family="Liberation Serif" fill="#111" font-size="22.5">50</text><text x="460.81" y="425.69" font-family="Liberation Serif" fill="#111" font-size="22.5">65</text><text x="522.14" y="425.72" font-family="Liberation Serif" fill="#111" font-size="22.5">70</text><text x="583.10" y="425.61" font-family="Liberation Serif" fill="#111" font-size="22.5">75</text><text x="647.55" y="424.02" font-family="Liberation Serif" fill="#111" font-size="22.5">80</text><text transform="translate(13.20,220.04) scale(0.88,1)" font-family="Liberation Serif" fill="#111" font-size="38" font-style="italic">R</text><path transform="translate(194.9,455.6) skewX(-18)" fill="#111" d="M0,-13.5 A8.0,13.5 0 1,1 0,13.5 A8.0,13.5 0 1,1 0,-13.5 Z M0,-12.4 A4.7,12.4 0 1,0 0,12.4 A4.7,12.4 0 1,0 0,-12.4 Z M-5.0,-0.17500000000000004 H5.0 V1.175 H-5.0 Z"/><path transform="translate(537.15,455.05) skewX(-18)" fill="#111" d="M0,-13.5 A8.0,13.5 0 1,1 0,13.5 A8.0,13.5 0 1,1 0,-13.5 Z M0,-12.4 A4.7,12.4 0 1,0 0,12.4 A4.7,12.4 0 1,0 0,-12.4 Z M-5.0,-0.17500000000000004 H5.0 V1.175 H-5.0 Z"/><text x="272.15" y="77.86" font-family="Liberation Serif" fill="#111" font-size="57">A</text><text x="592.51" y="77.73" font-family="Liberation Serif" fill="#111" font-size="57">B</text></svg>
</body></html>
